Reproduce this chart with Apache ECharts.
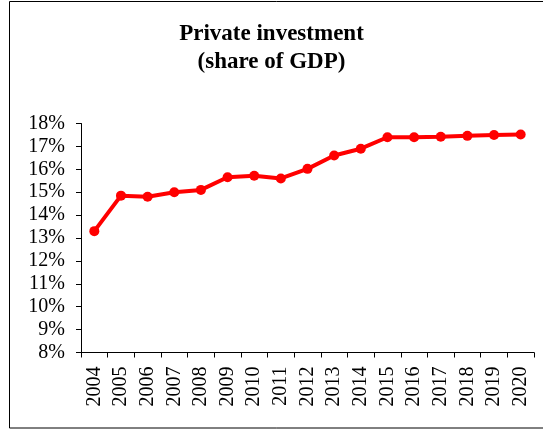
<!DOCTYPE html>
<html>
<head>
<meta charset="utf-8">
<script src="https://cdn.jsdelivr.net/npm/echarts@6/dist/echarts.min.js"></script>
<style>
html,body{margin:0;padding:0;background:#fff;}
#c{width:543px;height:430px;}
</style>
</head>
<body>
<div id="c"></div>
<script>
const titleText = "Private investment\n(share of GDP)";
const years = ["2004","2005","2006","2007","2008","2009","2010","2011","2012","2013","2014","2015","2016","2017","2018","2019","2020"];
const privateInvestment = [13.3, 14.85, 14.8, 15.0, 15.1, 15.65, 15.72, 15.6, 16.02, 16.6, 16.9, 17.4, 17.4, 17.42, 17.46, 17.5, 17.52];
const yMin = 8, yMax = 18, yStep = 1;

const chart = echarts.init(document.getElementById('c'), null, {renderer: 'canvas'});
const serif = '"Liberation Serif", "Times New Roman", serif';
chart.setOption({
  animation: false,
  backgroundColor: '#fff',
  title: {
    text: titleText,
    left: 'center',
    top: 15,
    textStyle: {fontFamily: serif, fontWeight: 'bold', fontSize: 23, lineHeight: 28, color: '#000'}
  },
  graphic: [{
    type: 'rect',
    shape: {x: 9.5, y: 1.5, width: 545, height: 426.5},
    style: {fill: 'none', stroke: '#000', lineWidth: 1},
    silent: true
  }],
  grid: {left: 81, right: 9, top: 123.5, bottom: 77.5, containLabel: false},
  xAxis: {
    type: 'category',
    data: years,
    boundaryGap: true,
    axisLine: {lineStyle: {color: '#000', width: 1}},
    axisTick: {show: true, length: 5, lineStyle: {color: '#000'}},
    axisLabel: {rotate: 90, margin: 14, fontFamily: serif, fontSize: 20, color: '#000'},
    splitLine: {show: false}
  },
  yAxis: {
    type: 'value',
    min: yMin, max: yMax, interval: yStep,
    axisLine: {show: true, lineStyle: {color: '#000', width: 1}},
    axisTick: {show: true, length: 5, lineStyle: {color: '#000'}},
    axisLabel: {margin: 16, fontFamily: serif, fontSize: 20, color: '#000', formatter: v => v + '%'},
    splitLine: {show: false}
  },
  series: [{
    type: 'line',
    data: privateInvestment,
    symbol: 'circle',
    symbolSize: 10,
    lineStyle: {color: '#ff0000', width: 4},
    itemStyle: {color: '#ff0000'}
  }]
});
</script>
</body>
</html>
